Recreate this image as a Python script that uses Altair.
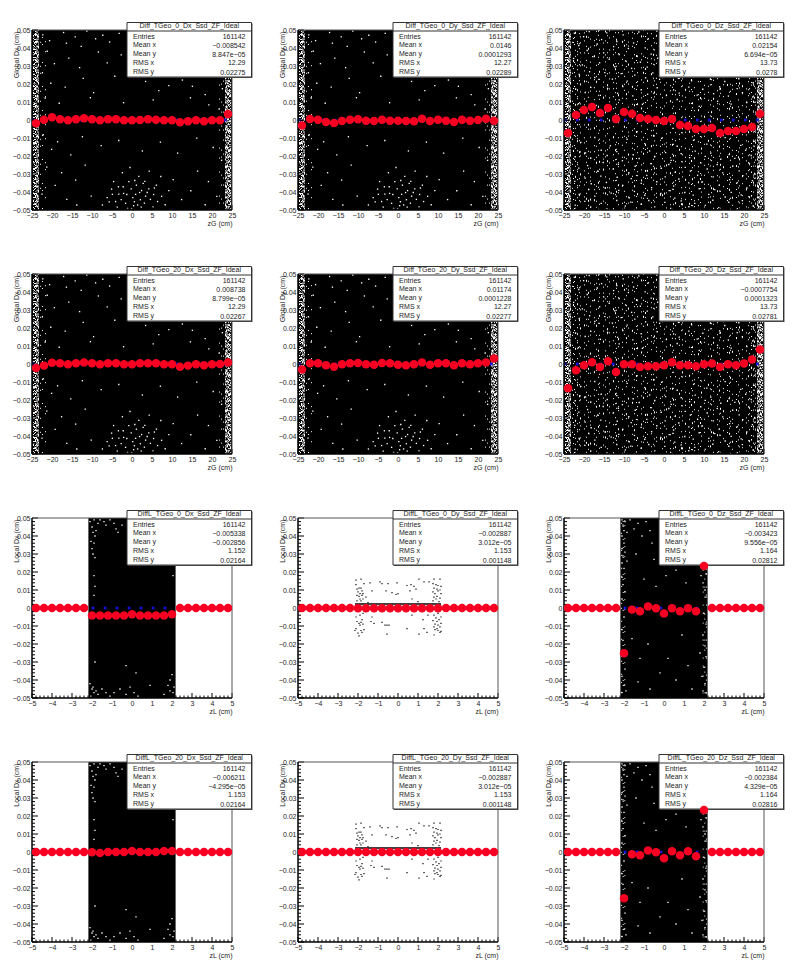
import altair as alt
import pandas as pd

FONT = "Liberation Sans"
RED = "#f70022"
BLUE = "#1a10e0"
INK = "#1c1c1c"

ZG = [-24,-22,-20,-18,-16,-14,-12,-10,-8,-6,-4,-2,0,2,4,6,8,10,12,14,16,18,20,22,24]
ZL = [-4.8,-4.4,-4.0,-3.6,-3.2,-2.8,-2.4,-2.0,-1.6,-1.2,-0.8,-0.4,0,0.4,0.8,1.2,1.6,2.0,2.4,2.8,3.2,3.6,4.0,4.4,4.8]
BLUE_G = [-24.67,-21.67,-18.67,-15.67,-12.67,-9.67,-6.67,-3.67,-0.67,2.33,5.33,8.33,11.33,14.33,17.33,20.33,23.33]
BLUE_L = [-1.95,-1.35,-0.75,-0.15,0.45,1.05,1.65]
TICK_G_MAJOR = [-25,-20,-15,-10,-5,0,5,10,15,20,25]
TICK_L_MAJOR = [-5,-4,-3,-2,-1,0,1,2,3,4,5]
TICK_G_MINOR = [-24,-23,-22,-21,-19,-18,-17,-16,-14,-13,-12,-11,-9,-8,-7,-6,-4,-3,-2,-1,1,2,3,4,6,7,8,9,11,12,13,14,16,17,18,19,21,22,23,24]
TICK_L_MINOR = [-4.8,-4.6,-4.4,-4.2,-3.8,-3.6,-3.4,-3.2,-2.8,-2.6,-2.4,-2.2,-1.8,-1.6,-1.4,-1.2,-0.8,-0.6,-0.4,-0.2,0.2,0.4,0.6,0.8,1.2,1.4,1.6,1.8,2.2,2.4,2.6,2.8,3.2,3.4,3.6,3.8,4.2,4.4,4.6,4.8]
TICK_Y_MAJOR = [-0.05,-0.04,-0.03,-0.02,-0.01,0,0.01,0.02,0.03,0.04,0.05]
TICK_Y_MINOR = [-0.048,-0.046,-0.044,-0.042,-0.038,-0.036,-0.034,-0.032,-0.028,-0.026,-0.024,-0.022,-0.018,-0.016,-0.014,-0.012,-0.008,-0.006,-0.004,-0.002,0.002,0.004,0.006,0.008,0.012,0.014,0.016,0.018,0.022,0.024,0.026,0.028,0.032,0.034,0.036,0.038,0.042,0.044,0.046,0.048]

G0_DX = [-.0018,.0002,.0015,.0004,-.0002,.0004,.001,.0004,-.0002,.0004,.0004,-.0002,-.0002,0,.0004,.0002,-.0002,-.0002,-.0013,-.0007,-.0002,-.0007,-.0002,-.0002,.0033]
G0_DY = [-.0031,.0005,.0002,-.0011,-.0017,-.0005,.0002,.0004,-.0004,-.0005,.0002,-.0004,-.0004,-.0005,-.0007,.0007,-.0005,.0002,-.0004,-.0011,.0002,-.0004,0,.0007,-.0004]
G0_DZ = [-.0072,.0028,.0055,.0072,.0039,.0067,.0005,.0044,.0035,.0011,.0005,0,-.0005,.0005,-.0028,-.0033,-.005,-.005,-.0044,-.0072,-.0061,-.0061,-.005,-.0039,.0035]
G20_DX = [-.0022,-.0009,.0007,.0004,-.0002,.0004,.0009,.0004,-.0002,.0004,.0004,-.0002,-.0002,.0004,.0004,.0004,-.0002,-.0002,-.0015,-.0009,-.0002,-.0007,-.0002,0,.0009]
G20_DY = [-.003,.0004,.0004,-.0007,-.0015,-.0002,.0004,.0006,-.0002,-.0004,.0006,.0004,-.0004,-.0007,-.0002,.0009,-.0004,.0004,.0004,-.0007,.0004,-.0002,.0004,.0009,.0031]
G20_DZ = [-.0135,-.0035,-.0007,.001,-.0016,.0015,-.0045,-.0002,-.0002,-.0016,-.0012,-.0012,-.0007,.001,-.0007,-.0007,-.0012,-.0002,.0003,-.0016,-.0002,-.0007,.0003,.0025,.008]
L0_DX = [0,0,0,0,0,0,0,-.0041,-.0041,-.0041,-.0041,-.0041,-.0035,-.0041,-.0041,-.0041,-.0041,-.0035,0,0,0,0,0,0,0]
L0_DY = [0,0,0,0,0,0,0,-.0001,-.0001,-.0001,-.0001,-.0001,-.0001,-.0001,-.0001,-.0001,-.0001,-.0001,0,0,0,0,0,0,0]
L0_DZ = [0,0,0,0,0,0,0,-.0252,-.0009,-.0018,.0009,-.0002,-.003,-.0002,-.0018,-.0002,-.0018,.0233,0,0,0,0,0,0,0]
L20_DX = [0,0,0,0,0,0,0,-.0002,-.0006,0,0,0,.0006,0,0,0,.0006,.0006,0,0,0,0,0,0,0]
L20_DY = [0,0,0,0,0,0,0,0,0,0,0,0,0,0,0,0,0,0,0,0,0,0,0,0,0]
L20_DZ = [0,0,0,0,0,0,0,-.0257,-.0013,-.0018,.0009,-.0002,-.0035,.0004,-.0018,.0004,-.0024,.0233,0,0,0,0,0,0,0]

# white gaps in the dense black cloud, read by eye
GAPS_GLOBAL_XY = [
(-22.3,.0473),(-20.6,.0441),(-21.2,.0382),(-19.4,.0313),(-17.1,.0486),(-16.4,.0427),(-14.2,.0462),(-12.7,.0409),(-11.3,.0494),(-9.1,.0451),(-8.4,.0378),(-7.3,.0471),(-5.6,.0433),(-3.2,.0481),(-2.7,.0362),(-0.4,.0463),(2.3,.0418),(-15.8,.0344),(-13.1,.0291),(-6.2,.0317),(-22.4,.0262),(-20.3,.0204),(-16.7,.0183),(-12.2,.0231),(-9.6,.0152),(-4.3,.0243),(1.2,.0278),(3.4,.0214),(6.7,.0163),(9.2,.0191),(12.6,.0222),(15.1,.0187),(18.3,.0141),(20.4,.0244),(22.1,.0293),(21.3,.0362),(22.6,.0174),(-21.7,.0122),(-18.2,.0093),(-10.4,.0124),(-2.1,.0096),(5.3,.0112),(14.6,.0123),(19.2,.0084),(21.8,.0061),
(-22.2,-.0082),(-20.1,-.0163),(-18.6,-.0121),(-15.3,-.0194),(-12.4,-.0093),(-7.7,-.0142),(-3.3,-.0114),(2.6,-.0172),(7.1,-.0123),(11.4,-.0184),(16.2,-.0101),(20.3,-.0153),(22.4,-.0224),(-21.3,-.0262),(-17.6,-.0293),(-14.1,-.0334),(-11.7,-.0251),(-19.2,-.0363),(-22.5,-.0412),(-16.3,-.0441),(-13.8,-.0472),(-10.2,-.0423),(16.4,-.0284),(19.1,-.0342),(14.7,-.0393),(21.2,-.0424),(18.3,-.0471),(12.4,-.0442),(10.3,-.0331),
(-7.4,-.0472),(-6.2,-.0431),(-5.1,-.0384),(-4.6,-.0342),(-4.1,-.0453),(-3.3,-.0412),(-3.7,-.0484),(-2.2,-.0371),(-2.4,-.0293),(-2.7,-.0442),(-1.3,-.0414),(-1.6,-.0463),(-0.8,-.0342),(-0.5,-.0264),(-0.2,-.0383),(0.2,-.0431),(-0.1,-.0492),(0.6,-.0454),(0.9,-.0413),(1.1,-.0362),(1.4,-.0472),(1.7,-.0313),(2.1,-.0443),(2.4,-.0392),(2.3,-.0484),(3.2,-.0341),(3.4,-.0423),(3.1,-.0462),(4.3,-.0284),(4.2,-.0383),(4.6,-.0441),(5.4,-.0414),(5.2,-.0482),(6.1,-.0362),(6.4,-.0453),(7.2,-.0314),(7.4,-.0424),(8.3,-.0471),(9.2,-.0392),(-5.7,-.0455),(-4.9,-.0413),(-3.4,-.0371),(-2.1,-.0408),(0.7,-.0336),(1.9,-.0403),(2.8,-.0352),(3.8,-.0403),(5.6,-.0378),(-1.1,-.0491),(0.4,-.0476),
]
GAPS_GLOBAL_Z = [
(-22.4,.0482),(-20.1,.0463),(-18.7,.0491),(-15.6,.0447),(-14.3,.0484),(-11.8,.0436),(-10.2,.0473),(-7.6,.0428),(-6.3,.0489),(-3.9,.0451),(-1.8,.0494),(0.3,.0458),(1.4,.0426),(3.1,.0477),(-21.3,.0414),(-19.2,.0386),(-16.7,.0422),(-15.1,.0373),(-12.6,.0408),(-11.2,.0364),(-8.9,.0397),(-6.8,.0358),(-4.7,.0401),(-3.2,.0366),(-0.7,.0413),(2.2,.0379),(-22.6,.0342),(-20.4,.0306),(-17.8,.0352),(-16.1,.0318),(-13.7,.0337),(-12.3,.0296),(-9.6,.0328),(-8.1,.0287),(-5.9,.0321),(-4.2,.0294),(-1.6,.0343),(0.4,.0308),(2.7,.0331),(-21.2,.0253),(-18.6,.0268),(-17.3,.0236),(-14.8,.0263),(-12.9,.0227),(-10.7,.0258),(-9.2,.0216),(-7.3,.0249),(-4.6,.0234),(-2.8,.0262),(-1.1,.0226),(1.3,.0257),(3.6,.0231),(5.4,.0264),(6.9,.0218),(9.3,.0246),(11.6,.0227),(12.8,.0261),(15.2,.0214),(17.4,.0253),(18.7,.0229),(20.9,.0266),(22.3,.0207),
(-22.1,.0172),(-19.7,.0153),(-18.3,.0181),(-15.9,.0137),(-14.1,.0176),(-11.6,.0148),(-10.3,.0186),(-7.8,.0134),(-5.7,.0168),(-4.1,.0143),(-1.7,.0179),(0.6,.0136),(2.4,.0167),(3.8,.0149),(6.2,.0183),(8.3,.0138),(9.7,.0171),(12.4,.0146),(13.9,.0184),(16.1,.0133),(18.3,.0174),(19.6,.0152),(22.2,.0128),(-21.4,.0091),(-11.2,.0112),(-5.4,.0087),(3.3,.0114),(8.8,.0076),(13.4,.0104),(16.8,.0088),(20.7,.0097),
(-20.8,-.0124),(-17.3,-.0097),(-13.4,-.0143),(-9.2,-.0108),(-4.8,-.0131),(-0.6,-.0102),(3.3,-.0146),(7.4,-.0113),(10.7,-.0134),(15.3,-.0098),(19.2,-.0141),(22.4,-.0119),(-22.2,-.0204),(-19.6,-.0183),(-18.3,-.0212),(-15.7,-.0168),(-14.2,-.0197),(-11.8,-.0176),(-10.4,-.0226),(-7.7,-.0193),(-6.2,-.0214),(-3.6,-.0172),(-2.3,-.0203),(0.4,-.0181),(1.8,-.0224),(4.3,-.0187),(6.4,-.0209),(7.8,-.0173),(10.3,-.0202),(11.7,-.0184),(14.2,-.0218),(16.3,-.0192),(17.7,-.0213),(20.4,-.0168),(21.8,-.0197),
(-21.3,-.0267),(-19.1,-.0253),(-16.6,-.0284),(-15.2,-.0236),(-12.7,-.0273),(-11.4,-.0246),(-8.8,-.0293),(-7.2,-.0257),(-4.6,-.0281),(-3.3,-.0242),(-0.7,-.0268),(1.2,-.0247),(2.8,-.0291),(5.3,-.0263),(6.6,-.0284),(9.2,-.0238),(10.8,-.0272),(13.3,-.0248),(14.7,-.0294),(17.2,-.0256),(18.8,-.0283),(21.3,-.0241),
(-22.3,-.0341),(-19.7,-.0323),(-18.2,-.0354),(-15.8,-.0312),(-14.4,-.0347),(-11.7,-.0318),(-10.3,-.0363),(-8.2,-.0326),(-5.7,-.0352),(-4.3,-.0308),(-1.8,-.0343),(0.3,-.0316),(2.4,-.0367),(3.7,-.0328),(6.2,-.0349),(8.4,-.0307),(9.6,-.0344),(12.3,-.0316),(13.8,-.0362),(16.4,-.0331),(18.3,-.0348),(19.7,-.0309),(22.1,-.0337),
(-21.2,-.0414),(-18.8,-.0386),(-17.3,-.0423),(-14.7,-.0378),(-13.2,-.0406),(-11.3,-.0391),(-8.7,-.0432),(-7.4,-.0397),(-4.8,-.0418),(-3.1,-.0376),(-0.8,-.0408),(1.3,-.0392),(2.7,-.0434),(5.2,-.0403),(7.3,-.0417),(8.8,-.0382),(11.2,-.0413),(12.7,-.0387),(15.3,-.0428),(16.8,-.0402),(19.3,-.0416),(20.7,-.0378),
(-22.2,-.0473),(-19.8,-.0452),(-18.3,-.0484),(-15.7,-.0463),(-14.2,-.0492),(-11.8,-.0447),(-9.7,-.0478),(-8.3,-.0456),(-5.7,-.0468),(-3.8,-.0447),(-2.3,-.0483),(0.2,-.0458),(1.7,-.0491),(4.3,-.0449),(6.2,-.0482),(7.7,-.0463),(10.3,-.0474),(12.2,-.0446),(13.7,-.0487),(16.2,-.0457),(18.3,-.0493),(19.6,-.0448),(22.3,-.0478),
]
GAPS_LOCAL_X = [
(-2.1,.048),(-2.0,.045),(-1.9,.049),(-1.8,.043),(-1.7,.047),(-1.6,.049),(-1.4,.048),(-1.3,.046),(-1.1,.049),(-0.9,.047),(-0.8,.044),(-0.7,.042),(-0.5,.046),(-2.05,.037),(-2.0,.033),(-1.95,.03),(-1.9,.036),(-1.85,.028),(-1.85,.04),(-1.95,.042),(-1.9,.018),(-1.85,.012),(2.05,.018),(-1.9,.007),
(-1.85,-.03),(-0.3,-.032),(0.2,-.036),(0.9,-.043),(1.9,-.04),(2.0,-.037),(2.1,-.044),(2.05,-.047),(1.9,-.046),(-2.1,-.042),(-2.0,-.045),(-1.9,-.047),(-2.05,-.049),(-1.95,-.044),(-1.8,-.046),(-1.7,-.048),(-1.5,-.045),(-1.3,-.047),(-1.1,-.049),(-0.9,-.047),(-0.6,-.045),(-0.3,-.048),(-0.1,-.044),(0.1,-.047),(0.3,-.049),(1.6,-.048),(1.8,-.043),
]
GAPS_LOCAL_Z = [
(-2.1,.049),(-2.05,.046),(-2.0,.043),(-1.95,.048),(-2.1,.04),(-2.0,.036),(-2.1,.033),(-2.05,.029),(-1.95,.031),(-2.1,.025),(-2.0,.022),(-2.1,.017),(-2.05,.013),(-1.95,.009),(-2.1,.005),(-2.0,-.005),(-2.1,-.012),(-2.05,-.018),(-1.95,-.034),(-2.1,-.038),(-2.0,-.043),(-2.1,-.047),(-1.9,-.046),(-1.85,.042),(-1.85,.026),
(-1.7,.049),(-1.5,.044),(-1.3,.047),(-1.1,.04),(-0.9,.048),(-0.7,.043),(-0.6,.036),(-1.4,.03),(-0.5,.027),(-0.2,.046),(-1.0,.016),(-0.4,.012),(0.1,.018),(0.6,.021),(1.1,.014),(-1.6,-.017),(-1.2,-.028),(-0.8,-.02),(-0.2,-.036),(-0.7,-.045),(0.2,-.028),(0.6,-.04),(0.9,-.015),(1.2,-.032),(1.4,-.045),(-1.3,-.041),
(2.1,.049),(2.05,.044),(2.0,.04),(2.1,.034),(1.95,.03),(2.05,.025),(2.1,.019),(1.95,.014),(2.05,.01),(2.1,.006),(2.0,-.003),(2.1,-.009),(1.95,-.015),(2.05,-.021),(2.1,-.027),(2.0,-.033),(1.9,-.038),(2.05,-.042),(2.1,-.047),(1.95,-.046),(1.85,.018),(1.8,-.025),
]
DOTS_LOCAL_Y = [
(-2.1,.0155),(-2.1,.013),(-1.85,.016),(-2.05,.0105),(-1.95,.011),(-1.85,.011),(-1.8,.0095),(-2.0,.009),(-1.9,.008),(-1.75,.008),(-2.05,.007),(-1.95,.0065),(-1.8,.007),(-1.9,.005),(-2.05,.004),(-1.75,.005),(-1.85,.004),(-1.6,.006),(-1.7,.0135),
(-1.4,.014),(-1.3,.0095),(-0.9,.0145),(-0.8,.0135),(-1.5,.003),(-0.6,.0095),(-0.5,.0135),(-0.3,.0085),(-0.1,.0075),(0,.008),(-0.05,.014),(0.45,.0125),(0.65,.013),(0.8,.012),(1.05,.016),(0.9,.0105),(1.3,.0145),(1.55,.0145),(0.7,.005),(1.0,.0035),(0.6,.0095),
(1.8,.016),(2.1,.016),(1.75,.0135),(1.9,.013),(2.0,.0125),(2.15,.012),(1.8,.011),(1.95,.0105),(2.1,.01),(1.75,.009),(2.0,.0095),(1.85,.008),(2.15,.008),(1.95,.0065),(1.8,.006),(2.1,.0055),(1.9,.005),(1.75,.004),(2.05,.0035),
(-2.1,-.0115),(-2.15,-.0125),(-1.95,-.0155),(-2.0,-.014),(-1.85,-.0125),(-1.8,-.0135),(-1.9,-.0095),(-1.75,-.009),(-1.85,-.008),(-2.05,-.0075),(-1.95,-.0085),(-1.8,-.0065),(-2.1,-.005),(-1.9,-.004),(-1.7,-.012),(-1.75,-.003),
(-1.3,-.005),(-1.2,-.0085),(-1.35,-.0075),(-0.8,-.008),(-0.65,-.0095),(-0.55,-.0095),(-0.45,-.0095),(-0.55,-.0145),(0.45,-.0115),(1.05,-.0145),(1.3,-.0115),(1.45,-.0135),(1.25,-.0065),(0.7,-.004),(1.5,-.004),
(1.8,-.015),(2.1,-.0135),(2.0,-.0125),(1.85,-.012),(2.15,-.013),(1.95,-.0115),(1.8,-.0105),(2.1,-.0105),(2.0,-.0095),(1.85,-.009),(2.15,-.0085),(1.95,-.0075),(1.75,-.007),(2.05,-.0065),(1.9,-.0055),(2.15,-.005),(1.8,-.004),(2.0,-.003),
]
STRIP_A = [-24.62,-23.88,23.38,24.12]
STRIP_B = [-24.38,-23.62,23.62,24.38]
STRIP_C = [-24.12,-23.38,23.88,24.62]
WEAVE_A = [-22.62,-20.88,-18.38,-16.12,-13.62,-11.38,-8.88,-6.62,-4.12,-1.88,0.62,2.88,5.38,7.62,10.12,12.38,14.88,17.12,19.62,21.88]
WEAVE_B = [-21.62,-19.38,-16.88,-14.62,-12.12,-9.88,-7.38,-5.12,-2.62,-0.38,2.12,4.38,6.88,9.12,11.62,13.88,16.38,18.62,21.12,22.38]
WEAVE_C = [-22.12,-19.88,-17.38,-15.12,-12.62,-10.38,-7.88,-5.62,-3.12,-0.88,1.62,3.88,6.38,8.62,11.12,13.38,15.88,18.12,20.62,22.88]
WEAVE_D = [-21.12,-18.88,-16.38,-14.12,-11.88,-9.38,-6.88,-4.62,-2.38,0.12,2.38,4.62,7.12,9.38,11.88,14.12,16.62,18.88,21.38,22.62]
WEAVE_START = [0,.013,.027,.006,.033,.019,.002,.024,.011,.036,.008,.029,.016,.004,.031,.021,.009,.026,.014,.035]
STRIP_START = [0,.007,.013,.004]
EDGE_GLOBAL = [-22.88,-22.38,-21.62,21.88,22.38,22.88]
EDGE_START = [.021,.005,.034,.012,.027,.002]
EDGE_LOCAL_Z = [-2.12,-2.04,-1.96,1.96,2.04,2.12]

PANELS = [
 ("Diff_TGeo_0_Dx_Ssd_ZF_Ideal","Global Dx (cm)","G",G0_DX,GAPS_GLOBAL_XY,False,["161142","\u22120.008542","8.847e\u221205","12.29","0.02275"]),
 ("Diff_TGeo_0_Dy_Ssd_ZF_Ideal","Global Dy (cm)","G",G0_DY,GAPS_GLOBAL_XY,False,["161142","0.0146","0.0001293","12.27","0.02289"]),
 ("Diff_TGeo_0_Dz_Ssd_ZF_Ideal","Global Dz (cm)","G",G0_DZ,GAPS_GLOBAL_Z,True,["161142","0.02154","6.694e\u221205","13.73","0.0278"]),
 ("Diff_TGeo_20_Dx_Ssd_ZF_Ideal","Global Dx (cm)","G",G20_DX,GAPS_GLOBAL_XY,False,["161142","0.008738","8.799e\u221205","12.29","0.02267"]),
 ("Diff_TGeo_20_Dy_Ssd_ZF_Ideal","Global Dy (cm)","G",G20_DY,GAPS_GLOBAL_XY,False,["161142","0.01174","0.0001228","12.27","0.02277"]),
 ("Diff_TGeo_20_Dz_Ssd_ZF_Ideal","Global Dz (cm)","G",G20_DZ,GAPS_GLOBAL_Z,True,["161142","\u22120.0007754","0.0001323","13.73","0.02781"]),
 ("DiffL_TGeo_0_Dx_Ssd_ZF_Ideal","Local Dx (cm)","L",L0_DX,GAPS_LOCAL_X,False,["161142","\u22120.005338","\u22120.002856","1.152","0.02164"]),
 ("DiffL_TGeo_0_Dy_Ssd_ZF_Ideal","Local Dy (cm)","Y",L0_DY,[],False,["161142","\u22120.002887","3.012e\u221205","1.153","0.001148"]),
 ("DiffL_TGeo_0_Dz_Ssd_ZF_Ideal","Local Dz (cm)","L",L0_DZ,GAPS_LOCAL_Z,False,["161142","\u22120.003423","9.556e\u221205","1.164","0.02812"]),
 ("DiffL_TGeo_20_Dx_Ssd_ZF_Ideal","Local Dx (cm)","L",L20_DX,GAPS_LOCAL_X,False,["161142","\u22120.006211","\u22124.295e\u221205","1.153","0.02164"]),
 ("DiffL_TGeo_20_Dy_Ssd_ZF_Ideal","Local Dy (cm)","Y",L20_DY,[],False,["161142","\u22120.002887","3.012e\u221205","1.153","0.001148"]),
 ("DiffL_TGeo_20_Dz_Ssd_ZF_Ideal","Local Dz (cm)","L",L20_DZ,GAPS_LOCAL_Z,False,["161142","\u22120.002384","4.329e\u221205","1.164","0.02816"]),
]
ROW_NAMES = ["Entries","Mean x","Mean y","RMS x","RMS y"]
ROW_Y_NAME = [6.7,15.3,24,33.3,42]
ROW_Y_VAL = [6.7,16.3,25,33.3,43]

W, H = 200, 180
YDOM = [-0.05,0.05]
LABEL = "replace(format(datum.value,'~g'),'-','\u2212')"

def xy_pts(pts):
    return pd.DataFrame({"x":[p[0] for p in pts],"y":[p[1] for p in pts]})

def panel(title,ytitle,kind,red,gaps,weave,stats):
    is_g = kind=="G"
    xdom = [-25,25] if is_g else [-5,5]
    xs = alt.Scale(domain=xdom,nice=False,zero=False)
    ys = alt.Scale(domain=YDOM,nice=False,zero=False)
    major = TICK_G_MAJOR if is_g else TICK_L_MAJOR
    minor = TICK_G_MINOR if is_g else TICK_L_MINOR
    xt = "zG (cm)" if is_g else "zL (cm)"
    xaxis = alt.Axis(values=major,labelExpr=LABEL,ticks=False,domain=False,grid=False,labelFont=FONT,labelFontSize=7,labelColor=INK,
                     labelPadding=1,labelOverlap=False,labelFlush=False,title=xt,titleFont=FONT,titleFontSize=7,titleFontWeight="normal",titleColor=INK,
                     titleX=W,titleY=13,titleAlign="right",titleBaseline="middle")
    yaxis = alt.Axis(values=TICK_Y_MAJOR,labelExpr=LABEL,ticks=False,domain=False,grid=False,labelFont=FONT,labelFontSize=7,labelColor=INK,
                     labelPadding=2,labelOverlap=False,labelFlush=False,title=ytitle,titleFont=FONT,titleFontSize=7,titleFontWeight="normal",titleColor=INK,
                     titleX=-16,titleY=1,titleAlign="right",titleAngle=270,titleBaseline="middle")
    X = alt.X("x:Q",scale=xs,axis=xaxis)
    Y = alt.Y("y:Q",scale=ys,axis=yaxis)
    if is_g:
        band = (-25,25,-0.05,0.05)
    elif kind=="L":
        band = (-2.18,2.18,-0.05,0.05)
    else:
        band = (-2.15,2.15,0.0018,0.0026)
    bg = alt.Chart(pd.DataFrame({"x0":[band[0]],"x1":[band[1]],"y0":[band[2]],"y1":[band[3]]})).mark_rect(color="black").encode(
        x=alt.X("x0:Q",scale=xs,axis=xaxis),x2="x1:Q",y=alt.Y("y0:Q",scale=ys,axis=yaxis),y2="y1:Q")
    layers = [bg]
    def vrules(xlist,starts,dash,width=1):
        df = pd.DataFrame({"x":xlist,"y0":[-0.05-s for s in starts[:len(xlist)]],"y1":[0.05]*len(xlist)})
        return alt.Chart(df).mark_rule(color="white",strokeWidth=width,strokeDash=dash,clip=True).encode(
            x=X,y=alt.Y("y0:Q",scale=ys,axis=yaxis),y2="y1:Q")
    if is_g:
        layers += [vrules(STRIP_A,STRIP_START,[1,1,2,1,1,2,3,1,1,3,2,1]),vrules(STRIP_B,STRIP_START,[2,1,1,1,3,2,1,1,1,2,2,3]),vrules(STRIP_C,STRIP_START,[1,2,1,1,2,1,1,3,3,1,1,1])]
        layers.append(vrules(EDGE_GLOBAL,EDGE_START,[1,9,1,17,1,6,1,23,1,13]))
    if weave:
        layers += [vrules(WEAVE_A,WEAVE_START,[1,9,1,5,1,14,1,7,1,11,1,6,2,17,1,3,1,8]),vrules(WEAVE_B,WEAVE_START[7:]+WEAVE_START,[1,6,1,13,1,8,2,4,1,10,1,19,1,5,1,7]),
                   vrules(WEAVE_C,WEAVE_START[3:]+WEAVE_START,[1,11,1,7,1,5,1,16,2,9,1,4,1,12]),vrules(WEAVE_D,WEAVE_START[13:]+WEAVE_START,[1,15,1,4,1,9,1,6,1,21,1,3,2,10])]
    if gaps is GAPS_LOCAL_Z:
        layers.append(vrules(EDGE_LOCAL_Z,EDGE_START,[1,7,1,12,1,4,1,16,1,9]))
    if gaps:
        layers.append(alt.Chart(xy_pts(gaps)).mark_square(color="white",size=1.8,opacity=1).encode(x=X,y=Y))
    if kind=="Y":
        layers.append(alt.Chart(xy_pts(DOTS_LOCAL_Y)).mark_square(color="black",size=1.4,opacity=1).encode(x=X,y=Y))
    blues = BLUE_G if is_g else BLUE_L
    layers.append(alt.Chart(pd.DataFrame({"x":blues,"y":[0]*len(blues)})).mark_square(color=BLUE,size=7,opacity=1).encode(x=X,y=Y))
    # inward ticks
    def xticks(vals,ln):
        return alt.Chart(pd.DataFrame({"x":vals})).mark_rule(color="black",strokeWidth=1).encode(x=X,y=alt.value(H),y2=alt.value(H-ln))
    def yticks(vals,ln):
        return alt.Chart(pd.DataFrame({"y":vals})).mark_rule(color="black",strokeWidth=1).encode(y=Y,x=alt.value(0),x2=alt.value(ln))
    layers += [xticks(major,5),xticks(minor,2.5),yticks(TICK_Y_MAJOR,6),yticks(TICK_Y_MINOR,3)]
    # frame
    def line(x1,x2,y1,y2,c,w):
        return alt.Chart(pd.DataFrame({"k":[0]})).mark_rule(color=c,strokeWidth=w).encode(x=alt.value(x1),x2=alt.value(x2),y=alt.value(y1),y2=alt.value(y2))
    layers += [line(0,W,0,0,"#555555",1),line(W,W,0,H,"#555555",1),line(0,0,0,H,"black",1.5),line(0,W,H,H,"black",1.5)]
    # stats box
    def box(x1,x2,y1,y2,fill,stroke=None):
        kw = {"stroke":stroke,"strokeWidth":1} if stroke else {}
        return alt.Chart(pd.DataFrame({"k":[0]})).mark_rect(fill=fill,**kw).encode(x=alt.value(x1),x2=alt.value(x2),y=alt.value(y1),y2=alt.value(y2))
    left, right, top, bottom = 95, 219.5, -7.5, 47
    layers += [box(left+1,right+1,top+1,bottom+1,"#555555"),box(left,right,top,bottom,"white","#333333"),line(left,right,1,1,"#333333",1)]
    def txt(rows,align):
        return alt.Chart(pd.DataFrame(rows)).mark_text(font=FONT,fontSize=7,color=INK,align=align,baseline="middle").encode(
            x=alt.X("px:Q",scale=None),y=alt.Y("py:Q",scale=None),text="t:N")
    layers.append(txt({"px":[(left+right)/2],"py":[-3.6],"t":[title]},"center"))
    layers.append(txt({"px":[left+6]*5,"py":ROW_Y_NAME,"t":ROW_NAMES},"left"))
    layers.append(txt({"px":[right-6]*5,"py":ROW_Y_VAL,"t":stats},"right"))
    xr = ZG if is_g else ZL
    layers.append(alt.Chart(pd.DataFrame({"x":xr,"y":red})).mark_circle(color=RED,size=72,opacity=1).encode(x=X,y=Y))
    return alt.layer(*layers).properties(width=W,height=H)

chart = alt.concat(*[panel(*p) for p in PANELS],columns=3,spacing={"row":64,"column":66}).properties(
    bounds="flush",padding={"left":4,"top":14,"right":4,"bottom":12},background="white"
).configure_view(stroke=None)
chart.save("out.html",embed_options={"renderer":"svg","actions":False})
